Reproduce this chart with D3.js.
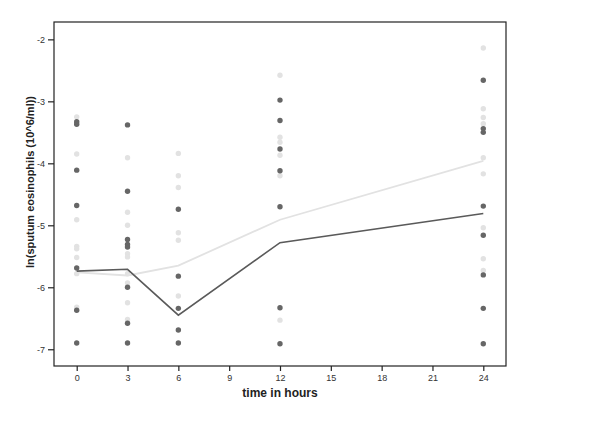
<!DOCTYPE html>
<html>
<head>
<meta charset="utf-8">
<script src="https://cdn.jsdelivr.net/npm/d3@7"></script>
<style>
  body { margin: 0; background: #fff; }
  svg { display: block; }
  text { font-family: Arial, "Liberation Sans", sans-serif; }
</style>
</head>
<body>
<svg id="chart" width="600" height="424"></svg>
<script>
// time points (hours)
const times = [0, 3, 6, 12, 24];
const xTicks = [0, 3, 6, 9, 12, 15, 18, 21, 24];
const yTicks = [-2, -3, -4, -5, -6, -7];

// individual values, dark group (one list per time point)
const darkPoints = [
	[-3.33, -3.37, -4.11, -4.68, -5.69, -6.37, -6.90],
	[-3.38, -4.45, -5.23, -5.31, -5.35, -6.00, -6.58, -6.90],
	[-4.74, -5.82, -6.34, -6.69, -6.90],
	[-2.98, -3.31, -3.77, -4.12, -4.70, -6.33, -6.91],
	[-2.66, -3.44, -3.50, -4.69, -5.16, -5.80, -6.34, -6.91]
];

// individual values, light group
const lightPoints = [
	[-3.25, -3.85, -4.91, -5.34, -5.38, -5.52, -5.78, -6.32],
	[-3.91, -4.79, -5.00, -5.46, -5.51, -5.78, -5.93, -6.25, -6.52],
	[-3.84, -4.20, -4.39, -5.12, -5.24, -6.14],
	[-2.58, -3.58, -3.66, -3.87, -4.20, -6.53],
	[-2.14, -3.12, -3.26, -3.36, -3.91, -4.17, -5.04, -5.54, -5.73]
];

// group means
const darkMeans = [-5.74, -5.71, -6.45, -5.28, -4.81];
const lightMeans = [-5.76, -5.81, -5.65, -4.91, -3.96];

const svg = d3.select('#chart');
const plotL = 54, plotR = 506, plotT = 22, plotB = 366;

const x = d3.scaleLinear().domain([-1.34, 25.34]).range([plotL, plotR]);
const y = d3.scaleLinear().domain([-7.27, -1.72]).range([plotB, plotT]);

const darkCol = '#666666';
const lightCol = '#e2e2e2';

// frame
svg.append('rect')
	.attr('x', plotL).attr('y', plotT)
	.attr('width', plotR - plotL).attr('height', plotB - plotT)
	.attr('fill', 'none').attr('stroke', '#222').attr('stroke-width', 1.2);

// axes (plain hyphen minus, integer labels)
const fmt = d => String(d);
const xAxis = svg.append('g')
	.attr('transform', `translate(0,${plotB})`)
	.call(d3.axisBottom(x).tickValues(xTicks).tickFormat(fmt).tickSize(5).tickPadding(4));
const yAxis = svg.append('g')
	.attr('transform', `translate(${plotL},0)`)
	.call(d3.axisLeft(y).tickValues(yTicks).tickFormat(fmt).tickSize(6).tickPadding(3));

[xAxis, yAxis].forEach(g => {
	g.select('.domain').remove();
	g.selectAll('line').attr('stroke', '#222').attr('stroke-width', 1.2);
	g.selectAll('text').attr('fill', '#333').style('font-size', '9px')
		.style('font-family', 'Arial, "Liberation Sans", sans-serif');
});

// points
function drawPoints(sets, col) {
	const flat = [];
	sets.forEach((vals, i) => vals.forEach(v => flat.push({t: times[i], v})));
	svg.append('g').selectAll('circle')
		.data(flat)
		.join('circle')
		.attr('cx', d => x(d.t))
		.attr('cy', d => y(d.v))
		.attr('r', 2.7)
		.attr('fill', col);
}
drawPoints(lightPoints, lightCol);
drawPoints(darkPoints, darkCol);

// mean lines
const line = d3.line().x((d, i) => x(times[i])).y(d => y(d));
svg.append('path').datum(lightMeans)
	.attr('d', line).attr('fill', 'none')
	.attr('stroke', lightCol).attr('stroke-width', 1.8);
svg.append('path').datum(darkMeans)
	.attr('d', line).attr('fill', 'none')
	.attr('stroke', '#5a5a5a').attr('stroke-width', 1.6);

// axis titles
svg.append('text')
	.attr('x', (plotL + plotR) / 2).attr('y', 397)
	.attr('text-anchor', 'middle')
	.style('font-size', '12px').style('font-weight', 'bold')
	.attr('fill', '#222')
	.text('time in hours');

svg.append('text')
	.attr('transform', 'translate(34,182) rotate(-90)')
	.attr('text-anchor', 'middle')
	.style('font-size', '11px').style('font-weight', 'bold')
	.attr('fill', '#222')
	.text('ln(sputum eosinophils (10^6/ml))');
</script>
</body>
</html>
